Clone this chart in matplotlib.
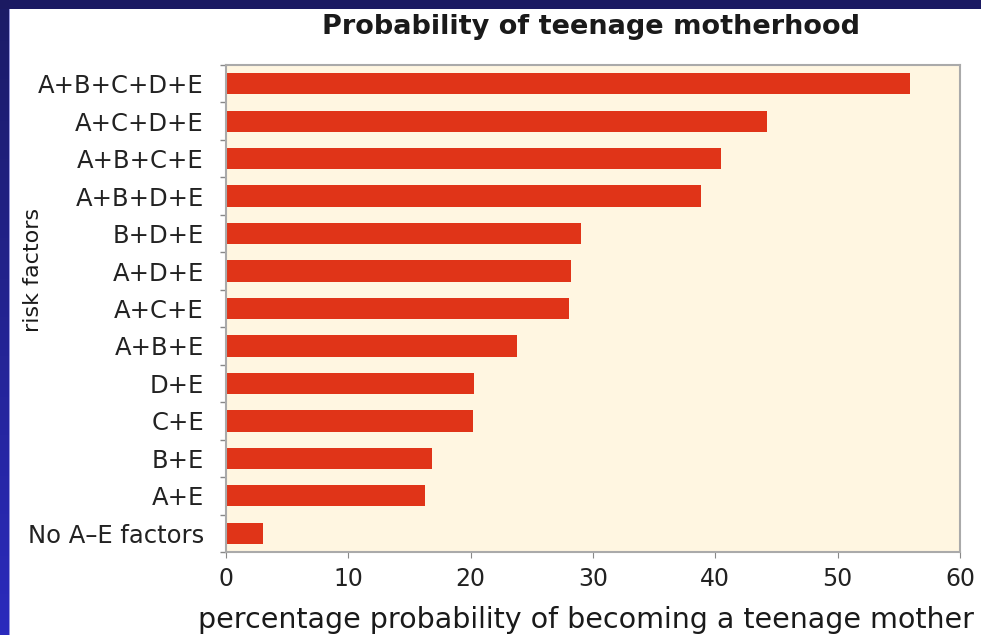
import numpy as np
import matplotlib
matplotlib.use('Agg')
import matplotlib.pyplot as plt
from matplotlib.patches import Rectangle

plt.rcParams['font.family'] = ['DejaVu Sans']

# risk factor combinations, top to bottom
categories = ['A+B+C+D+E', 'A+C+D+E', 'A+B+C+E', 'A+B+D+E', 'B+D+E',
              'A+D+E', 'A+C+E', 'A+B+E', 'D+E', 'C+E', 'B+E', 'A+E',
              'No A\u2013E factors']
values = [55.9, 44.2, 40.5, 38.8, 29.0, 28.2, 28.0, 23.8, 20.3, 20.2,
          16.8, 16.3, 3.0]
xticks = [0, 10, 20, 30, 40, 50, 60]

W, H = 981, 635
fig = plt.figure(figsize=(W / 100, H / 100), dpi=100)
fig.patch.set_facecolor('white')

# slide border: navy band on top, blue gradient on the left
grad = np.linspace(0, 1, 200)[:, None]
bax = fig.add_axes([0, 0, 9 / W, 1])
bax.imshow(grad, aspect='auto', extent=[0, 1, 0, 1],
           cmap=matplotlib.colors.LinearSegmentedColormap.from_list(
               'b', ['#1b1b66', '#2b2bbd']))
bax.set_axis_off()
fig.patches.append(Rectangle((0, 1 - 9 / H), 1, 9 / H, transform=fig.transFigure,
                             facecolor='#1b1a62', edgecolor='none', zorder=5))
fig.patches.append(Rectangle((9 / W, 0), 1 / W, 1 - 9 / H, transform=fig.transFigure,
                             facecolor='#9a9ae0', edgecolor='none', zorder=5))

ax = fig.add_axes([226 / W, 1 - 552 / H, (960 - 226) / W, (552 - 65) / H])
ax.set_facecolor('#fff6e1')

y = np.arange(len(categories))
ax.barh(y, values, height=0.57, color='#e03418', zorder=2)

ax.set_xlim(0, 60)
ax.set_ylim(len(categories) - 0.5, -0.5)
ax.set_xticks(xticks)
ax.set_xticklabels([str(t) for t in xticks], fontsize=17, color='#222222')
ax.set_yticks(y)
ax.set_yticklabels(categories, fontsize=17.5, color='#222222')
ax.tick_params(axis='y', which='major', length=0, pad=16)
ax.set_yticks(np.arange(len(categories) + 1) - 0.5, minor=True)
ax.tick_params(axis='y', which='minor', length=4, color='#888888', width=1)
ax.tick_params(axis='x', length=4, color='#888888', pad=7)

for s in ax.spines.values():
    s.set_color('#aaaaaa')
    s.set_linewidth(1.5)

fig.text(591 / W, 1 - 27 / H, 'Probability of teenage motherhood',
         ha='center', va='center', fontsize=19.5, fontweight='bold', color='#1a1a1a')
fig.text(586 / W, 1 - 620 / H,
         'percentage probability of becoming a teenage mother',
         ha='center', va='center', fontsize=20.5, color='#1a1a1a')
fig.text(33 / W, 1 - 270 / H, 'risk factors', rotation=90,
         ha='center', va='center', fontsize=16, color='#1a1a1a')

fig.savefig('out.png', dpi=100)
